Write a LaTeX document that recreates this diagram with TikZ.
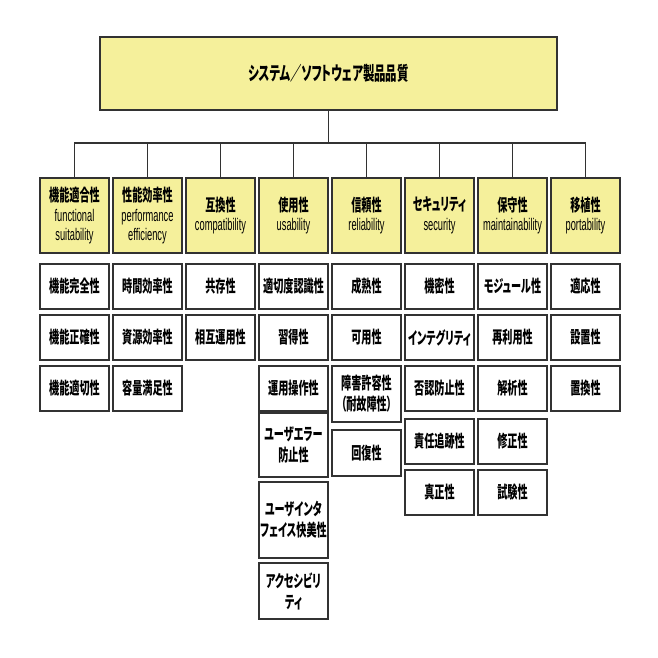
\documentclass[tikz,border=0pt]{standalone}
\usepackage{fontspec}
\setmainfont{Noto Sans CJK JP}[FakeStretch=0.6,RawFeature={+palt}]
\newfontfamily\enfont{Liberation Sans}[FakeStretch=0.55]
\newcommand{\engl}[1]{{\enfont\mdseries #1}}
\definecolor{boxyellow}{RGB}{245,240,155}
\definecolor{boxline}{RGB}{50,50,50}

\tikzstyle{rootblock}=[rectangle,
    draw=boxline,
    line width=1pt,
    minimum width=11.425cm,
    minimum height=1.825cm,
    fill=boxyellow,
    font=\fontsize{13.5}{16}\selectfont\bfseries]
\tikzstyle{catblock}=[rectangle,
    draw=boxline,
    line width=1pt,
    minimum width=1.725cm,
    minimum height=1.875cm,
    inner sep=0pt,
    align=center,
    fill=boxyellow,
    font=\fontsize{12}{14}\selectfont]
\tikzstyle{itemblock}=[rectangle,
    draw=boxline,
    line width=1pt,
    minimum width=1.725cm,
    minimum height=1.125cm,
    inner sep=0pt,
    align=center,
    fill=white,
    font=\fontsize{12}{15}\selectfont\bfseries]
\tikzstyle{wire}=[draw=boxline, line width=0.8pt]

\begin{document}
\begin{tikzpicture}[x=0.025cm, y=-0.025cm]
            \useasboundingbox (0,0) rectangle (658,658);
            % root and the eight characteristics
            \node (root) [rootblock] at (328.5,73.5) {システム／ソフトウェア製品品質};
            \node (fs) [catblock] at (74.5,215.5) {\textbf{機能適合性}\\\engl{functional}\\\engl{suitability}};
            \node (pe) [catblock] at (147.5,215.5) {\textbf{性能効率性}\\\engl{performance}\\\engl{efficiency}};
            \node (co) [catblock] at (220.5,215.5) {\textbf{互換性}\\\engl{compatibility}};
            \node (us) [catblock] at (293.5,215.5) {\textbf{使用性}\\\engl{usability}};
            \node (re) [catblock] at (366.5,215.5) {\textbf{信頼性}\\\engl{reliability}};
            \node (se) [catblock] at (439.5,215.5) {\textbf{セキュリティ}\\\engl{security}};
            \node (ma) [catblock] at (512.5,215.5) {\textbf{保守性}\\\engl{maintainability}};
            \node (po) [catblock] at (585.5,215.5) {\textbf{移植性}\\\engl{portability}};
            \coordinate (bus) at (328.5,143);
            \draw [wire] (root) -- (bus);
            \draw [wire] (bus) -| (fs.north);
            \draw [wire] (bus) -| (pe.north);
            \draw [wire] (bus) -| (co.north);
            \draw [wire] (bus) -| (us.north);
            \draw [wire] (bus) -| (re.north);
            \draw [wire] (bus) -| (se.north);
            \draw [wire] (bus) -| (ma.north);
            \draw [wire] (bus) -| (po.north);
            % sub-characteristics
            \node (fs1) [itemblock] at (74.5,286.5) {機能完全性};
            \node (fs2) [itemblock] at (74.5,337.5) {機能正確性};
            \node (fs3) [itemblock] at (74.5,388.5) {機能適切性};
            \node (pe1) [itemblock] at (147.5,286.5) {時間効率性};
            \node (pe2) [itemblock] at (147.5,337.5) {資源効率性};
            \node (pe3) [itemblock] at (147.5,388.5) {容量満足性};
            \node (co1) [itemblock] at (220.5,286.5) {共存性};
            \node (co2) [itemblock] at (220.5,337.5) {相互運用性};
            \node (us1) [itemblock] at (293.5,286.5) {適切度認識性};
            \node (us2) [itemblock] at (293.5,337.5) {習得性};
            \node (us3) [itemblock] at (293.5,388.5) {運用操作性};
            \node (us4) [itemblock, minimum height=1.6cm] at (293.5,445) {ユーザエラー\\防止性};
            \node (us5) [itemblock, minimum height=1.9cm] at (293.5,520) {ユーザインタ\\フェイス快美性};
            \node (us6) [itemblock, minimum height=1.4cm] at (293.5,591) {アクセシビリ\\ティ};
            \node (re1) [itemblock] at (366.5,286.5) {成熟性};
            \node (re2) [itemblock] at (366.5,337.5) {可用性};
            \node (re3) [itemblock, minimum height=1.4cm] at (366.5,394) {障害許容性\\（耐故障性）};
            \node (re4) [itemblock, minimum height=1.15cm] at (366.5,453) {回復性};
            \node (se1) [itemblock] at (439.5,286.5) {機密性};
            \node (se2) [itemblock] at (439.5,337.5) {インテグリティ};
            \node (se3) [itemblock] at (439.5,388.5) {否認防止性};
            \node (se4) [itemblock] at (439.5,441.5) {責任追跡性};
            \node (se5) [itemblock] at (439.5,492.5) {真正性};
            \node (ma1) [itemblock] at (512.5,286.5) {モジュール性};
            \node (ma2) [itemblock] at (512.5,337.5) {再利用性};
            \node (ma3) [itemblock] at (512.5,388.5) {解析性};
            \node (ma4) [itemblock] at (512.5,441.5) {修正性};
            \node (ma5) [itemblock] at (512.5,492.5) {試験性};
            \node (po1) [itemblock] at (585.5,286.5) {適応性};
            \node (po2) [itemblock] at (585.5,337.5) {設置性};
            \node (po3) [itemblock] at (585.5,388.5) {置換性};
        \end{tikzpicture}
\end{document}
